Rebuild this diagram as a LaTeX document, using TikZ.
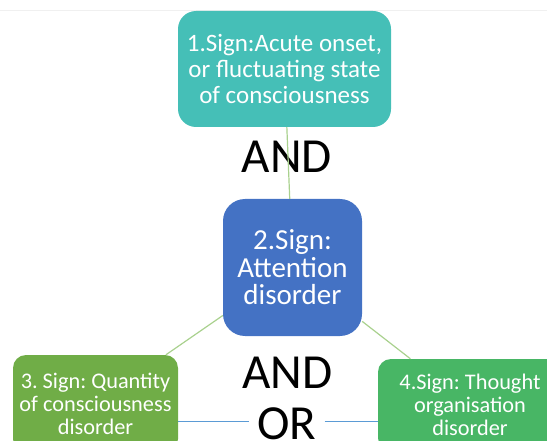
\documentclass[tikz,border=0pt]{standalone}
\usepackage{fontspec}
\setmainfont{Carlito}
\usepackage{xcolor}
\usepackage{tikz}
\frenchspacing

\definecolor{signteal}{HTML}{45BFB7}
\definecolor{signblue}{HTML}{4472C4}
\definecolor{signolive}{HTML}{70AD47}
\definecolor{signgreen}{HTML}{48B665}
\definecolor{linkgreen}{HTML}{A9D18E}
\definecolor{linkblue}{HTML}{5B9BD5}

\begin{document}
\begin{tikzpicture}[
    x=1pt, y=-1pt,
    sign/.style={
        rectangle, rounded corners=18pt, inner sep=0pt,
        text=white, align=center
    },
    word/.style={
        inner sep=0pt, text=black,
        font=\fontsize{49}{49}\selectfont
    },
    link/.style={draw=linkgreen, line width=1.2pt},
    orlink/.style={draw=linkblue, line width=1pt}
]

% --- page frame
\clip (0,0) rectangle (547,441);
\draw [black!6, line width=0.8pt] (0,10.5) -- (547,10.5);

% --- the four signs
\node (b1) [sign, fill=signteal, minimum width=213pt, minimum height=116pt,
            font=\fontsize{25}{26}\selectfont] at (284.5,69)
    {1.Sign:Acute onset,\\or fluctuating state\\of consciousness};
\node (b2) [sign, fill=signblue, rounded corners=22pt, minimum width=139pt, minimum height=137pt,
            font=\fontsize{29}{27.5}\selectfont] at (292.5,267.5)
    {2.Sign:\\Attention\\disorder};
\node (b3) [sign, fill=signolive, rounded corners=13pt, minimum width=165pt, minimum height=97pt,
            font=\fontsize{22.3}{23}\selectfont] at (95.5,403.5)
    {3. Sign: Quantity\\of consciousness\\disorder};
\node (b4) [sign, fill=signgreen, rounded corners=13pt, minimum width=184pt, minimum height=92pt,
            font=\fontsize{22.3}{23}\selectfont] at (470,405)
    {4.Sign: Thought\\organisation\\disorder};

% --- AND / OR words
\node (and1)   [word, anchor=base] at (287,173) {AND};
\node (and2)   [word, anchor=base] at (287.5,388) {AND};
\node (orword) [word, anchor=base, inner xsep=8pt] at (287,439) {OR};
\coordinate (orline) at (287,421);

% --- links
\draw [link] (b1) -- (b2);
\draw [link] (b2) -- (b3);
\draw [link] (b2) -- (b4);

% --- OR line between 3 and 4
\draw [orlink] (b3.east |- orline) -- (orword.west |- orline);
\draw [orlink] (orword.east |- orline) -- (b4.west |- orline);

\end{tikzpicture}
\end{document}
